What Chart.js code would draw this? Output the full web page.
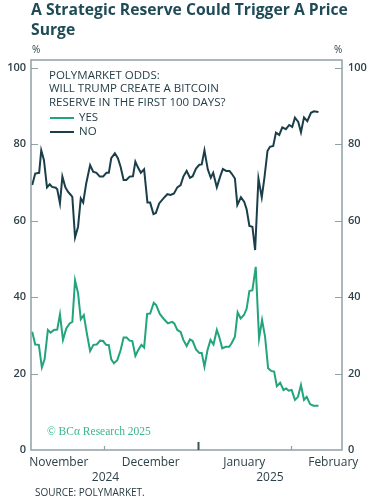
<!DOCTYPE html>
<html lang="en">
<head>
  <meta charset="UTF-8" />
  <title>A Strategic Reserve Could Trigger A Price Surge</title>
  <script src="https://cdn.jsdelivr.net/npm/chart.js"></script>
  <style>
    body { margin:0; background:#fff; }
    #wrap { position:relative; width:379px; height:501px; overflow:hidden; font-family:"Open Sans", sans-serif; }
    #chart { position:absolute; left:0; top:0; }
    .title { position:absolute; left:31px; top:-1px; width:335px; font-weight:700; font-size:15.7px; line-height:20px; color:#1f4b57; }
    .pct { position:absolute; top:42px; font-size:10px; color:#2f4249; }
    .legend { position:absolute; left:49px; top:68px; font-size:11.5px; line-height:13.4px; color:#1f3a44; }
    .key { position:absolute; left:50px; font-size:11.5px; color:#1f3a44; }
    .key span { display:inline-block; width:24px; height:2px; vertical-align:middle; margin-right:5px; }
    .mark { position:absolute; left:47px; top:425px; font-family:"Liberation Serif", "DejaVu Serif", serif; font-size:11.5px; color:#3cb58d; }
    .source { position:absolute; left:35px; top:485px; font-size:10px; color:#2a3c42; }
  </style>
</head>
<body>
<div id="wrap">
  <canvas id="chart" width="379" height="501"></canvas>
  <div class="title">A Strategic Reserve Could Trigger A Price Surge</div>
  <div class="pct" style="left:32px">%</div>
  <div class="pct" style="left:334px">%</div>
  <div class="legend">POLYMARKET ODDS:<br>WILL TRUMP CREATE A BITCOIN<br>RESERVE IN THE FIRST 100 DAYS?</div>
  <div id="keys"></div>
  <div class="mark">© BCα Research 2025</div>
  <div class="source">SOURCE: POLYMARKET.</div>
</div>

<script>
  // days counted from 1 Nov 2024
  const yesDays = [6.2,7.2,8.4,9.4,10.3,11.4,12.3,13.4,14.5,15.4,16.4,17.5,18.6,19.5,20.4,21.4,22.3,23.3,24.4,25.4,
    26.5,27.6,28.7,29.7,30.7,31.6,32.4,33.3,34.4,35.5,36.5,37.5,38.5,39.4,40.4,41.3,42.4,43.3,44.3,45.3,
    46.5,47.3,48.5,49.9,51.2,52.6,53.3,54.3,55.4,56.3,57.4,58.5,59.4,60.5,61.6,62.4,63.3,64.3,65.3,66.3,
    67.4,68.2,69.2,70.4,71.5,72.3,73.4,74.3,75.3,76.4,77.3,78.2,79.2,80.3,81.4,82.4,83.4,84.4,85.4,86.4,
    87.3,88.4,89.5,90.4,91.2,92.2,93.3,94.3,95.3,96.3,97.2,98.3,99.4,101.1];
  const yesValues = [30.9,27.6,27.5,21.6,23.7,31.4,30.7,31.4,31.5,35.5,28.8,31.8,33.1,33.5,44.4,41.0,34.2,35.3,30.1,25.9,
    27.5,27.6,28.6,28.5,27.5,27.4,23.7,22.7,23.5,26.1,29.4,29.4,28.6,28.5,24.6,26.1,27.5,26.8,35.6,35.7,
    38.5,37.9,35.6,34.2,33.1,33.5,33.1,31.4,30.9,28.8,27.2,28.9,28.5,26.3,25.4,25.4,21.8,26.1,28.8,27.6,
    31.4,29.6,26.6,27.0,27.0,27.9,29.6,36.0,34.4,35.3,37.0,41.6,41.8,47.9,29.2,34.0,29.6,21.4,20.7,20.5,
    16.7,17.6,15.7,16.1,15.5,15.7,13.1,13.9,17.0,13.1,13.9,12.0,11.6,11.6];

  const noDays = [6.2,7.2,8.5,9.2,10.1,11.1,12.0,12.8,14.0,14.5,15.4,16.2,17.2,18.1,19.0,19.5,20.4,21.4,22.3,23.1,
    24.1,25.4,26.4,27.5,28.6,29.7,30.8,31.6,32.4,33.6,34.6,35.5,36.5,37.4,38.5,39.6,40.4,41.2,42.2,43.3,
    44.4,45.3,46.4,47.2,48.3,49.7,51.0,52.1,53.2,54.3,55.4,56.3,57.4,58.5,59.4,60.5,61.6,62.4,63.3,64.4,
    65.4,66.2,67.4,68.5,69.4,70.5,71.6,72.3,73.4,74.2,75.4,76.5,77.3,78.2,79.2,80.1,81.2,82.3,83.2,84.2,
    85.0,86.1,87.0,88.1,89.1,90.3,91.4,92.4,93.3,94.4,95.3,96.3,97.4,98.6,99.6,101.1];
  const noValues = [69.3,72.3,72.5,78.4,75.8,68.7,69.5,68.8,68.6,68.2,64.5,71.5,68.7,67.5,66.7,66.2,55.6,58.4,65.8,64.7,
    69.7,74.5,72.8,72.5,71.5,71.5,72.5,72.5,76.3,77.6,76.3,74.1,70.6,70.6,71.5,71.6,75.4,74.0,72.5,73.4,
    64.7,64.7,61.7,62.0,64.5,65.8,66.9,66.7,67.1,68.7,69.3,71.5,73.0,71.2,71.6,73.6,74.6,74.7,78.4,73.4,
    71.2,72.5,68.7,71.5,73.5,73.0,73.0,72.3,71.0,64.1,66.1,64.9,62.9,58.6,58.4,52.3,71.0,66.1,71.3,78.2,
    79.3,79.5,83.0,82.4,84.4,83.9,85.0,84.5,86.9,85.8,83.1,87.0,86.0,88.2,88.6,88.4];

  const monthLabels = ['November','December','January','February'];
  const monthCenters = [15, 45.5, 76.5, 106];
  const monthStarts = [30, 61, 92];
  const yearLabels = ['2024','2025'];
  const yearCenters = [30.5, 85];
  const yTicks = [0, 20, 40, 60, 80, 100];

  const GREEN = '#22a47d';
  const DARK = '#1a3f4a';
  const AXIS = '#8fa0a6';
  const INK = '#2f4249';
  const xMin = 5.8, xMax = 108.9;

  // legend keys
  const keys = document.getElementById('keys');
  [['YES', GREEN, 109], ['NO', DARK, 123]].forEach(([name, col, top]) => {
    keys.innerHTML += '<div class="key" style="top:' + top + 'px"><span style="background:' + col + '"></span>' + name + '</div>';
  });

  const frame = {
    id: 'frame',
    afterDraw(chart) {
      const { ctx, chartArea: a, scales } = chart;
      ctx.save();
      ctx.strokeStyle = AXIS;
      ctx.lineWidth = 1.5;
      ctx.strokeRect(a.left, a.top, a.right - a.left, a.bottom - a.top);
      ctx.lineWidth = 1.2;
      yTicks.slice(1).forEach(v => {
        const y = Math.round(scales.y.getPixelForValue(v)) + 0.5;
        ctx.beginPath();
        ctx.moveTo(a.left, y); ctx.lineTo(a.left + 7, y);
        ctx.moveTo(a.right, y); ctx.lineTo(a.right - 7, y);
        ctx.stroke();
      });
      monthStarts.forEach(d => {
        const x = Math.round(scales.x.getPixelForValue(d)) + 0.5;
        const big = d === 61;
        ctx.lineWidth = big ? 2 : 1.2;
        ctx.strokeStyle = big ? '#3d5359' : AXIS;
        ctx.beginPath();
        ctx.moveTo(x, a.bottom); ctx.lineTo(x, a.bottom - (big ? 8 : 4));
        ctx.stroke();
      });
      ctx.restore();
    }
  };

  const tickFont = { family: 'Open Sans', size: 11, weight: '600' };

  new Chart(document.getElementById('chart'), {
    type: 'line',
    data: {
      datasets: [
        {
          label: 'YES',
          data: yesDays.map((d, i) => ({ x: d, y: yesValues[i] })),
          borderColor: GREEN,
          borderWidth: 2,
          pointRadius: 0
        },
        {
          label: 'NO',
          data: noDays.map((d, i) => ({ x: d, y: noValues[i] })),
          borderColor: DARK,
          borderWidth: 2,
          pointRadius: 0
        }
      ]
    },
    options: {
      responsive: false,
      animation: false,
      layout: { padding: { top: 60, left: 0, right: 0, bottom: 0 } },
      plugins: { legend: { display: false }, tooltip: { enabled: false } },
      scales: {
        x: {
          type: 'linear', position: 'bottom', min: xMin, max: xMax,
          grid: { display: false, drawTicks: false }, border: { display: false },
          afterBuildTicks: s => { s.ticks = monthCenters.map(v => ({ value: v })); },
          ticks: { autoSkip: false, maxRotation: 0, padding: 5, color: INK,
            font: { family: 'Open Sans', size: 12 },
            callback: (v, i) => monthLabels[i] },
          afterFit: s => { s.height = 20; }
        },
        years: {
          type: 'linear', position: 'bottom', min: xMin, max: xMax,
          grid: { display: false, drawTicks: false }, border: { display: false },
          afterBuildTicks: s => { s.ticks = yearCenters.map(v => ({ value: v })); },
          ticks: { autoSkip: false, maxRotation: 0, padding: 0, color: INK,
            font: { family: 'Open Sans', size: 12 },
            callback: (v, i) => yearLabels[i] },
          afterFit: s => { s.height = 31; }
        },
        y: {
          position: 'left', min: 0, max: 102,
          grid: { display: false, drawTicks: false }, border: { display: false },
          afterBuildTicks: s => { s.ticks = yTicks.map(v => ({ value: v })); },
          ticks: { padding: 5, color: INK, font: tickFont },
          afterFit: s => { s.width = 31; }
        },
        y2: {
          position: 'right', min: 0, max: 102,
          grid: { display: false, drawTicks: false }, border: { display: false },
          afterBuildTicks: s => { s.ticks = yTicks.map(v => ({ value: v })); },
          ticks: { padding: 6, color: INK, font: tickFont },
          afterFit: s => { s.width = 37; }
        }
      }
    },
    plugins: [frame]
  });
</script>
</body>
</html>
